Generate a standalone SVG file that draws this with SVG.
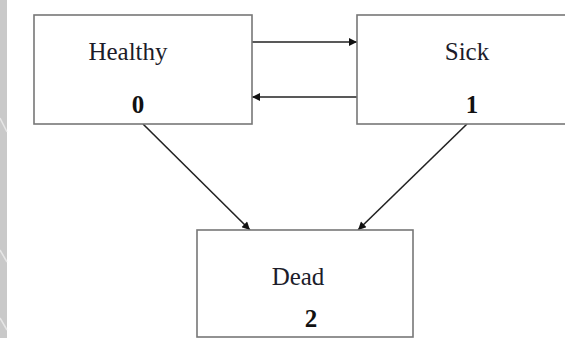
<svg xmlns="http://www.w3.org/2000/svg" width="565" height="338" viewBox="0 0 565 338">
<style>
.box{fill:#fff;stroke:#777;stroke-width:1.6}
.lbl{font-family:"Liberation Serif","Times New Roman",serif;font-size:25px;fill:#1c1c2a;text-anchor:middle}
.num{font-family:"Liberation Serif","Times New Roman",serif;font-size:25px;font-weight:bold;fill:#111;text-anchor:middle}
.edge{stroke:#222;stroke-width:1.6;fill:none;marker-end:url(#ah)}
</style>
<defs>
<marker id="ah" viewBox="0 0 10 10" refX="10" refY="5" markerWidth="11" markerHeight="8" markerUnits="userSpaceOnUse" orient="auto">
<path d="M0,0 L10,5 L0,10 z" fill="#111"/>
</marker>
</defs>
<rect x="0" y="0" width="565" height="338" fill="#fff"/>
<rect x="0" y="0" width="7" height="338" fill="#c9c9c9"/>
<g stroke="#eee" stroke-width="1.5" opacity="0.8">
<line x1="0" y1="118" x2="7" y2="132"/>
<line x1="0" y1="250" x2="7" y2="262"/>
<line x1="0" y1="318" x2="7" y2="330"/>
</g>
<g id="connectors">
<line class="edge" x1="252" y1="42" x2="357" y2="42"/>
<line class="edge" x1="357" y1="97" x2="252" y2="97"/>
<line class="edge" x1="143" y1="124" x2="250" y2="230"/>
<line class="edge" x1="467" y1="124" x2="358" y2="230"/>
</g>
<g id="healthy">
<rect class="box" x="34" y="15" width="218" height="109"/>
<text class="lbl" x="128" y="60">Healthy</text>
<text class="num" x="138" y="113">0</text>
</g>
<g id="sick">
<rect class="box" x="357" y="15" width="220" height="109"/>
<text class="lbl" x="467" y="60">Sick</text>
<text class="num" x="472" y="113">1</text>
</g>
<g id="dead">
<rect class="box" x="197" y="230" width="216" height="107"/>
<text class="lbl" x="298" y="285">Dead</text>
<text class="num" x="311" y="327">2</text>
</g>
</svg>
